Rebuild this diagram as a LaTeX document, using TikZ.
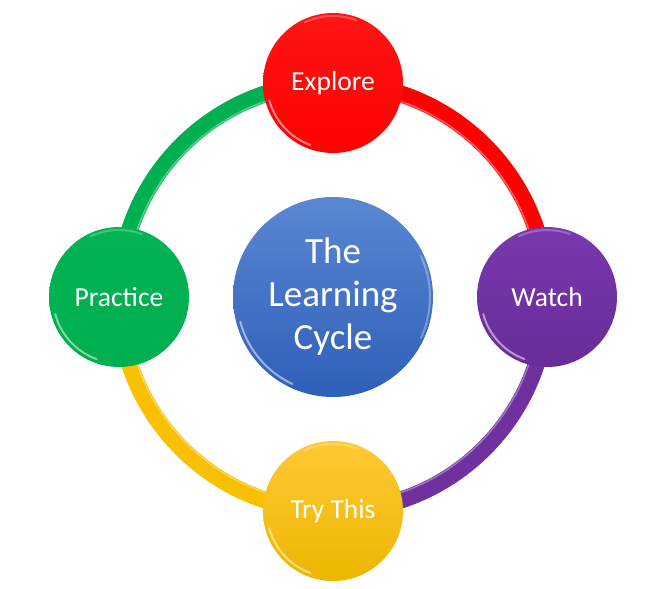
\documentclass[tikz,border=0pt]{standalone}
\usepackage{fontspec}
\setmainfont{Carlito}
\usetikzlibrary{backgrounds}
\definecolor{cred}{HTML}{FF0000}
\definecolor{credtop}{HTML}{FF1515}
\definecolor{cpurple}{HTML}{7030A0}
\definecolor{cpurpletop}{HTML}{7A38AE}
\definecolor{cpurplebot}{HTML}{682C98}
\definecolor{cyellowtop}{HTML}{FFC935}
\definecolor{cyellowbot}{HTML}{EDB600}
\definecolor{cyellow}{HTML}{F8C000}
\definecolor{cgreen}{HTML}{00B050}
\definecolor{cgreentop}{HTML}{03B353}
\definecolor{cbluetop}{HTML}{5B87D2}
\definecolor{cbluebot}{HTML}{2E5FB9}
\begin{document}
\begin{tikzpicture}[x=1pt,y=1pt,
  stage/.style={circle, minimum size=140pt, inner sep=0pt, text=white,
    font=\fontsize{27.5}{32}\selectfont},
  hub/.style={circle, minimum size=200pt, inner sep=0pt, text=white, align=center,
    font=\fontsize{37}{43}\selectfont, top color=cbluetop, bottom color=cbluebot},
  ring/.style={line width=17pt},
  sheen/.style={white, line width=1.5pt, opacity=0.35},
  rim/.style={white, line width=2pt, opacity=0.5, line cap=round}]
\useasboundingbox (0,0) rectangle (659,-589);

\node[hub] (hub) at (333,-297) {The\\Learning\\Cycle};
\node[stage, top color=credtop, bottom color=cred] (explore) at (333,-83) {Explore};
\node[stage, top color=cpurpletop, bottom color=cpurplebot] (watch) at (547,-297) {Watch};
\node[stage, top color=cyellowtop, bottom color=cyellowbot] (try) at (333,-511) {Try This};
\node[stage, top color=cgreentop, bottom color=cgreen] (practice) at (119,-297) {Practice};

\begin{pgfonlayer}{background}
  \draw[ring, cred] (explore.center) to[out=0, in=90] (watch.center);
  \draw[ring, cpurple] (watch.center) to[out=-90, in=0] (try.center);
  \draw[ring, cyellow] (try.center) to[out=180, in=-90] (practice.center);
  \draw[ring, cgreen] (practice.center) to[out=90, in=180] (explore.center);
  \draw[sheen] (hub.center) circle[radius=207];
\end{pgfonlayer}

\foreach \n in {explore, watch, try, practice}{
  \draw[rim] ([shift={(195:66)}]\n.center) arc[start angle=195, end angle=250, radius=66];
  \draw[rim, opacity=0.25] ([shift={(70:67)}]\n.center) arc[start angle=70, end angle=115, radius=67];
}
\draw[rim] ([shift={(195:96)}]hub.center) arc[start angle=195, end angle=245, radius=96];
\draw[rim, opacity=0.3] ([shift={(-25:97)}]hub.center) arc[start angle=-25, end angle=25, radius=97];
\end{tikzpicture}
\end{document}
